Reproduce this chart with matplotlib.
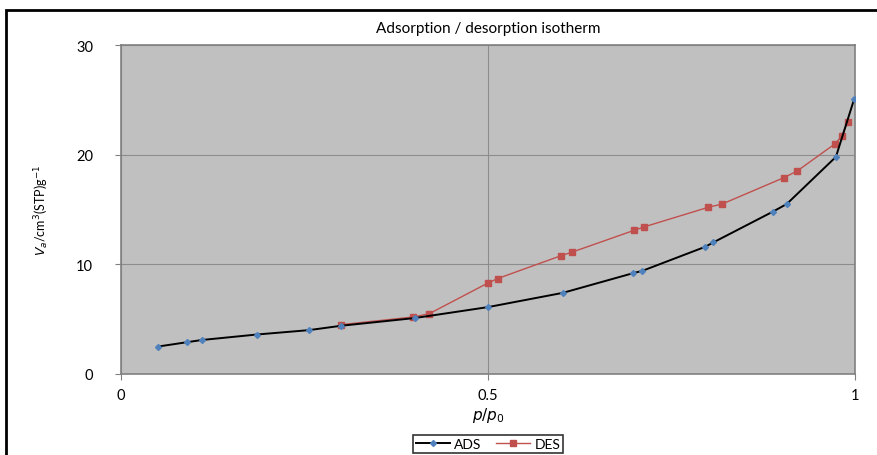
import matplotlib
matplotlib.use('Agg')
import matplotlib.pyplot as plt
from matplotlib.patches import Rectangle

plt.rcParams['font.family'] = ['Lato', 'DejaVu Sans']

# adsorption branch
ads_x = [0.05, 0.09, 0.11, 0.185, 0.256, 0.30, 0.40, 0.50, 0.602, 0.698, 0.71,
         0.796, 0.807, 0.888, 0.907, 0.974, 0.999]
ads_y = [2.5, 2.9, 3.1, 3.6, 4.0, 4.4, 5.1, 6.1, 7.4, 9.2, 9.4,
         11.6, 12.0, 14.8, 15.5, 19.8, 25.1]
# desorption branch
des_x = [0.30, 0.398, 0.42, 0.50, 0.513, 0.60, 0.614, 0.699, 0.712, 0.80, 0.819,
         0.903, 0.921, 0.973, 0.982, 0.99]
des_y = [4.5, 5.2, 5.5, 8.3, 8.7, 10.8, 11.1, 13.1, 13.4, 15.2, 15.5,
         17.9, 18.5, 21.0, 21.7, 23.0]

fig = plt.figure(figsize=(8.77, 4.56), dpi=100)
fig.patches.append(Rectangle((6/877, -0.05), 1.0, 1 - 11/456 + 0.05, transform=fig.transFigure,
                             fill=False, edgecolor='black', linewidth=2))
ax = fig.add_axes([121/877, 1 - 375/456, 734/877, 329/456])
ax.set_facecolor('#c0c0c0')

ax.plot(ads_x, ads_y, color='black', linewidth=1.4, marker='D', markersize=3,
        markerfacecolor='#4f81bd', markeredgecolor='#4f81bd', label='ADS', zorder=3)
ax.plot(des_x, des_y, color='#c0504d', linewidth=1.0, marker='s', markersize=5,
        markerfacecolor='#c0504d', markeredgecolor='#c0504d', label='DES', zorder=2)

ax.set_xlim(0, 1)
ax.set_ylim(0, 30)
ax.set_xticks([0, 0.5, 1])
ax.set_xticklabels(['0', '0.5', '1'])
ax.set_yticks([0, 10, 20, 30])
ax.grid(True, color='#8c8c8c', linewidth=0.8)
ax.set_axisbelow(True)
for s in ax.spines.values():
    s.set_color('#808080')
    s.set_linewidth(1.2)
ax.tick_params(axis='both', colors='#808080', labelcolor='black', labelsize=10.5, length=4)
ax.tick_params(axis='x', pad=6)
ax.tick_params(axis='y', pad=16)

ax.set_title('Adsorption / desorption isotherm', fontsize=11, pad=9)
ax.set_xlabel(r'$p/p_0$', fontsize=11, labelpad=2)
ax.set_ylabel(r'$V_a$/cm$^3$(STP)g$^{-1}$', fontsize=9, labelpad=18)

leg = ax.legend(loc='upper center', bbox_to_anchor=(0.5, -0.165), ncol=2, frameon=True,
                fancybox=False, edgecolor='black', fontsize=10, handlelength=2.5,
                borderpad=0.2, columnspacing=1.0, handletextpad=0.3)
leg.get_frame().set_linewidth(1.2)

fig.savefig('out.png', dpi=100)
